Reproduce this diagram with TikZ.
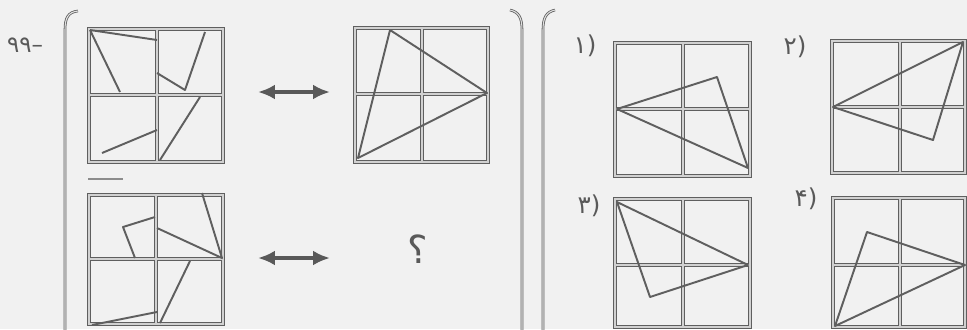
\documentclass[tikz,border=0pt]{standalone}
\usepackage{fontspec}
\usetikzlibrary{arrows.meta}
\newfontfamily\digitfont{DejaVu Sans}
\definecolor{scanpaper}{RGB}{241,241,241}
\definecolor{scanink}{RGB}{95,95,95}
\tikzset{
    gridline/.style={draw=scanink, double=black!18, double distance=1.1pt, line width=0.55pt},
    figline/.style={draw=scanink, line width=1.1pt, line join=round},
    bracketline/.style={draw=scanink, double=black!12, double distance=0.6pt, line width=0.45pt},
    swaparrow/.style={{Latex[length=0.34cm,width=0.3cm]}-{Latex[length=0.34cm,width=0.3cm]}, line width=2.2pt, draw=black!65},
    numlabel/.style={font=\digitfont\fontsize{14}{14}\selectfont, text=black!65, inner sep=0pt}
}
% 2x2 grid: x1, y1, x2, y2, middle x, middle y
\newcommand{\quadgrid}[6]{\draw[gridline] (#1,#2) rectangle (#3,#4) (#5,#2) -- (#5,#4) (#1,#6) -- (#3,#6);}
\begin{document}
\begin{tikzpicture}[x=0.02cm, y=-0.02cm]
    \fill[scanpaper] (0,0) rectangle (967,329);
    \useasboundingbox (0,0) rectangle (967,329);
    % brackets
    \draw[bracketline] (78,11) .. controls (68,12) and (65,18) .. (65,30) -- (65,335);
    \draw[bracketline] (510,10) .. controls (519,12) and (522,18) .. (522,30) -- (522,335);
    \draw[bracketline] (555,10) .. controls (546,12) and (543,18) .. (543,30) -- (543,335);
    \node[font=\digitfont\fontsize{13}{13}\selectfont, text=black!65, inner sep=0pt] (qnum) at (25,45) {۹۹–};
    % question figures
    \quadgrid{89}{29}{223}{162}{157}{95}
    \draw[figline] (90,30) -- (120,92) (90,30) -- (157,40);
    \draw[figline] (157,73) -- (185,90) -- (205,32);
    \draw[figline] (200,97) -- (160,160);
    \draw[figline] (102,153) -- (157,130);
    \quadgrid{355}{28}{488}{162}{422}{94}
    \draw[figline] (390,30) -- (487,93) -- (358,158) -- cycle;
    \draw[line width=1pt, draw=black!45] (88,179) -- (123,179);
    \quadgrid{89}{195}{223}{324}{156}{259}
    \draw[figline] (155,217) -- (123,227) -- (135,258);
    \draw[figline] (157,228) -- (222,258) -- (202,193);
    \draw[figline] (190,261) -- (160,323);
    \draw[figline] (92,325) -- (157,312);
    \draw[swaparrow] (258,92) -- (330,92);
    \draw[swaparrow] (258,258) -- (330,258);
    \node[font=\digitfont\fontsize{22}{22}\selectfont, text=black!65, inner sep=0pt] (qmark) at (418,249) {؟};
    % answer options
    \node[numlabel] (opt1) at (585,46) {۱)};
    \quadgrid{615}{43}{750}{176}{683}{109}
    \draw[figline] (617,109) -- (717,77) -- (748,168) -- cycle;
    \node[numlabel] (opt2) at (795,47) {۲)};
    \quadgrid{832}{41}{965}{173}{900}{107}
    \draw[figline] (833,107) -- (963,42) -- (933,140) -- cycle;
    \node[numlabel] (opt3) at (589,206) {۳)};
    \quadgrid{615}{199}{750}{327}{683}{265}
    \draw[figline] (617,202) -- (748,265) -- (650,297) -- cycle;
    \node[numlabel] (opt4) at (806,199) {۴)};
    \quadgrid{833}{198}{965}{327}{900}{265}
    \draw[figline] (867,232) -- (965,265) -- (835,326) -- cycle;
\end{tikzpicture}
\end{document}
